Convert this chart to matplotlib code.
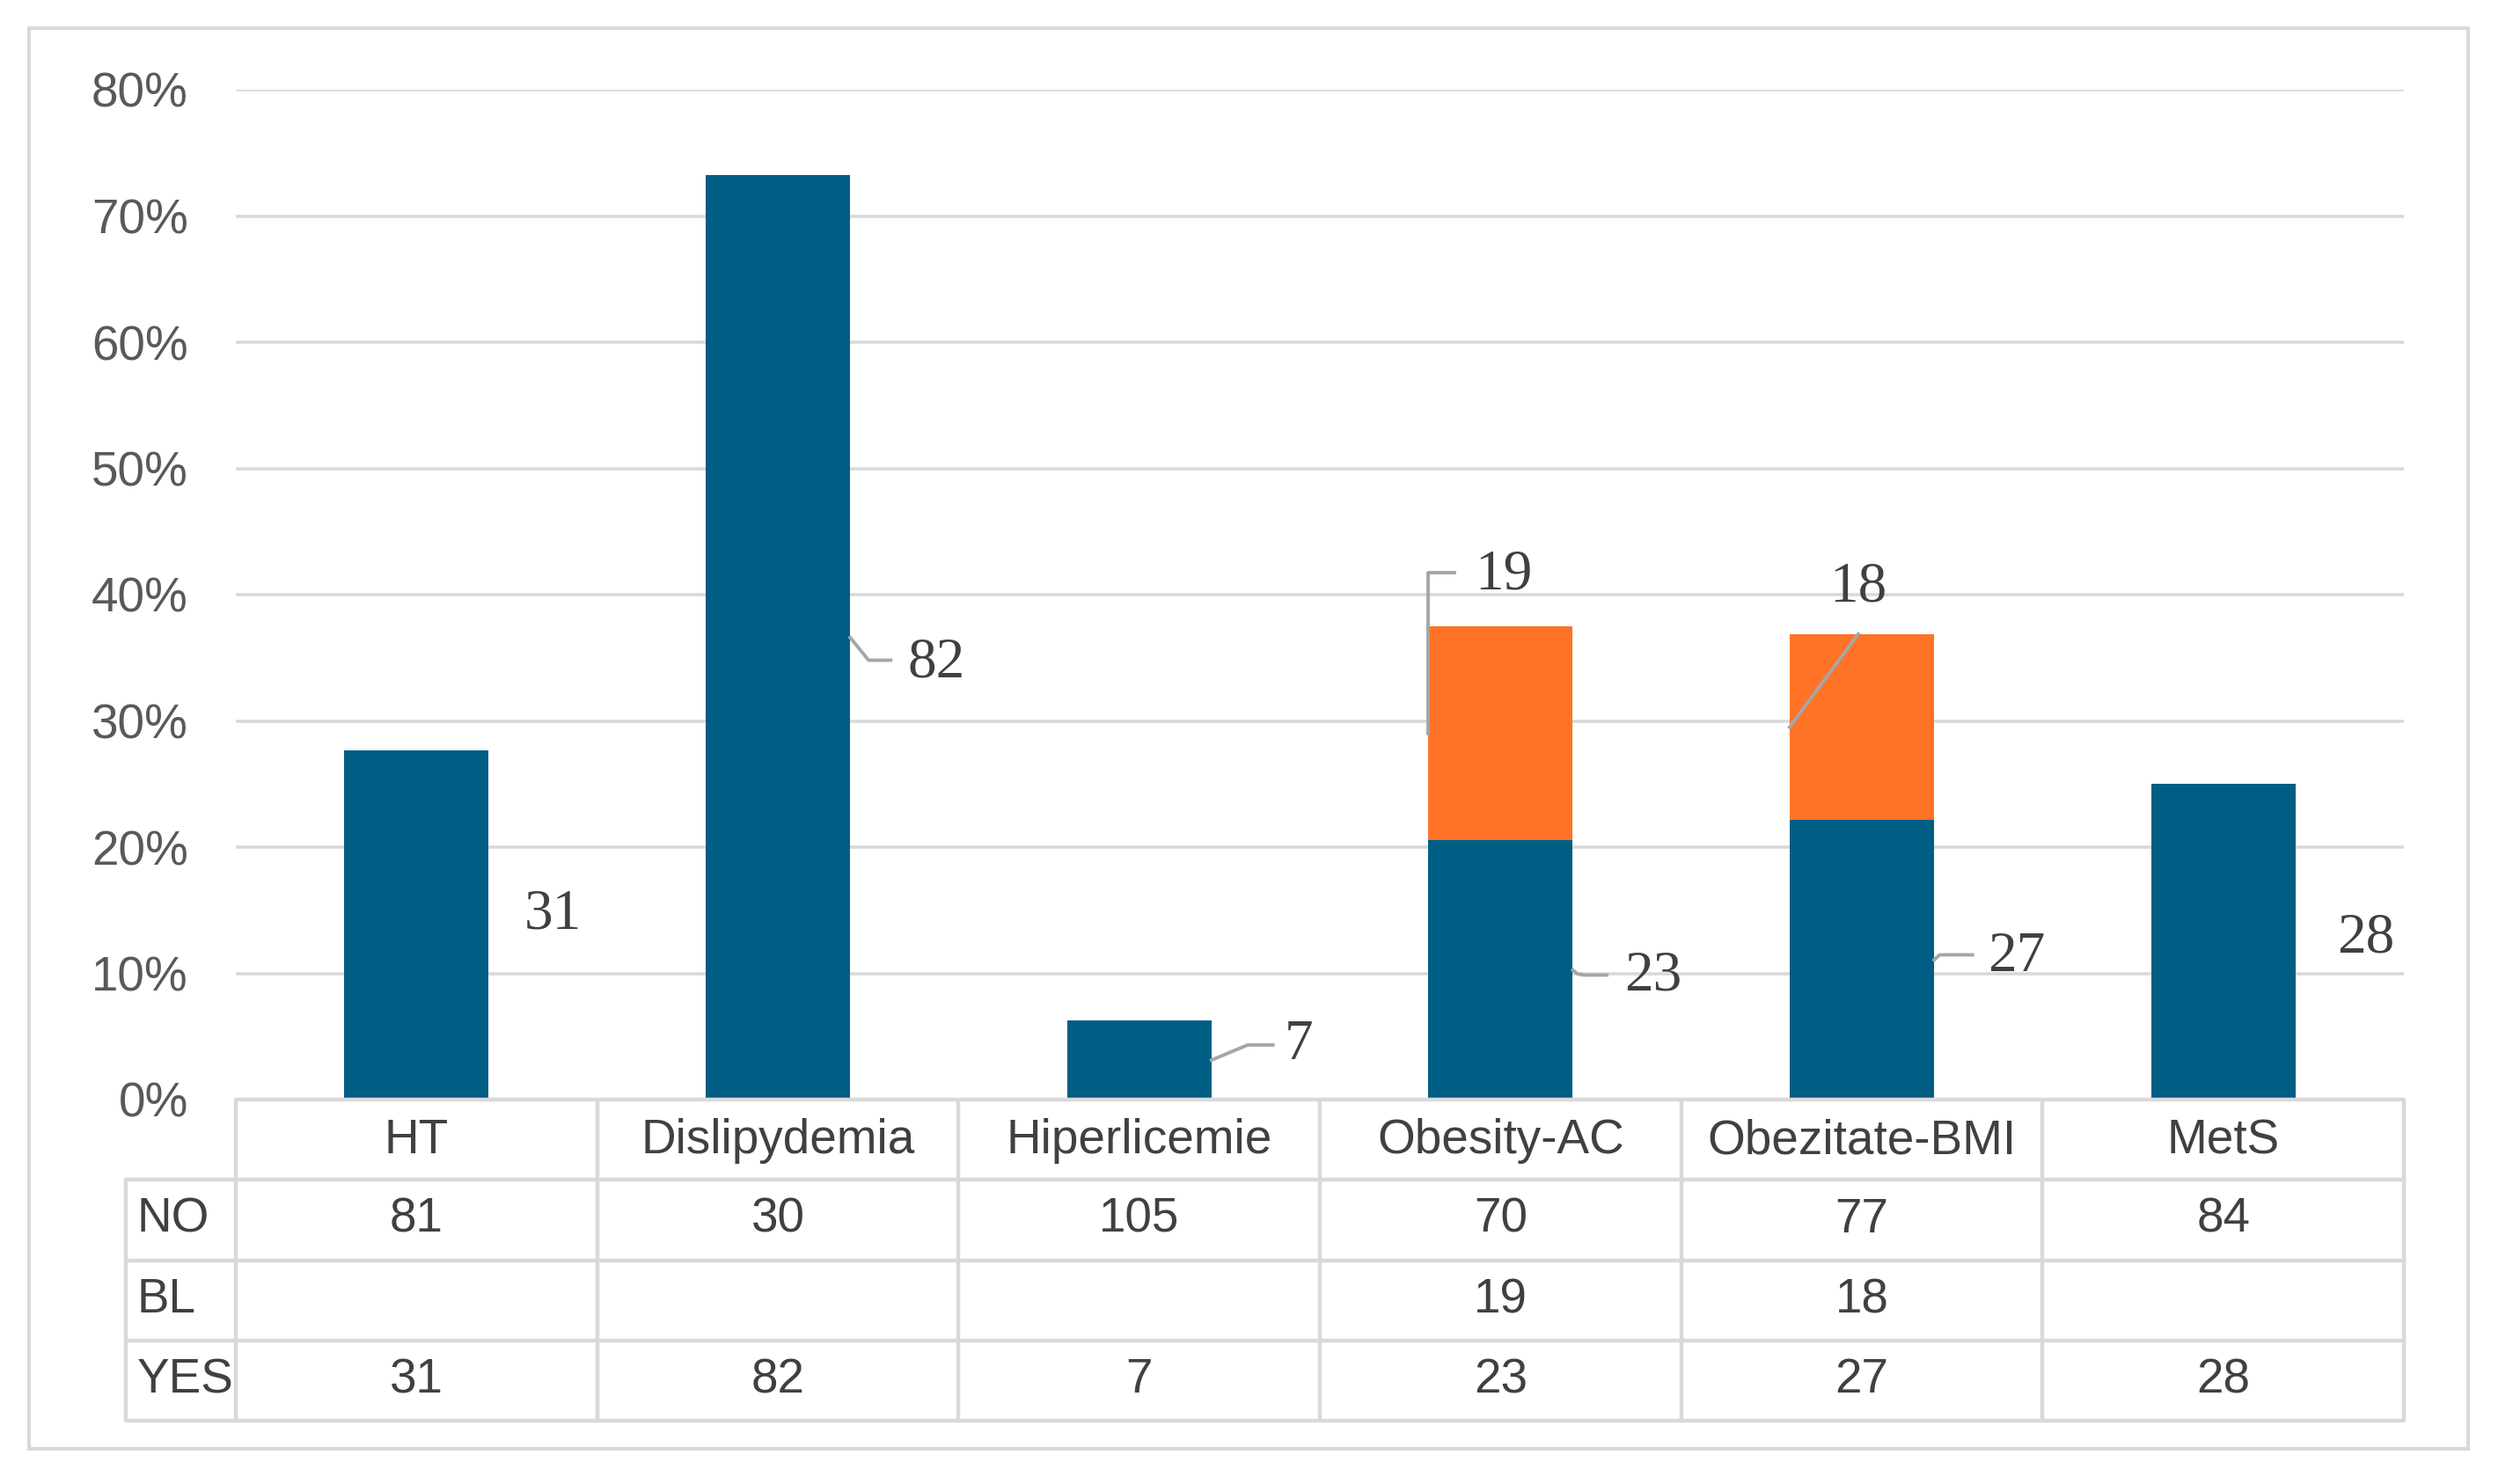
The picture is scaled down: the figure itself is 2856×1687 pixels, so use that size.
import matplotlib
matplotlib.use("Agg")
import matplotlib.pyplot as plt
from matplotlib.patches import Rectangle
import numpy as np

# ---------------- data ----------------
categories = ["HT", "Dislipydemia", "Hiperlicemie", "Obesity-AC", "Obezitate-BMI", "MetS"]
row_labels = ["NO", "BL", "YES"]
no_counts = [81, 30, 105, 70, 77, 84]
bl_counts = [None, None, None, 19, 18, None]
yes_counts = [31, 82, 7, 23, 27, 28]
y_ticks = [0, 0.1, 0.2, 0.3, 0.4, 0.5, 0.6, 0.7, 0.8]
y_tick_labels = ["0%", "10%", "20%", "30%", "40%", "50%", "60%", "70%", "80%"]

BLUE = "#005E85"
ORANGE = "#FF7326"
GRID = "#D9D9D9"
TICKC = "#595959"
TEXTC = "#404040"
LEADER = "#A6A6A6"

W, H = 2856, 1687
fig = plt.figure(figsize=(W / 100, H / 100), dpi=100)
fig.patch.set_facecolor("white")

bl_vals = np.array([b if b is not None else 0 for b in bl_counts], dtype=float)
totals = np.array(no_counts) + bl_vals + np.array(yes_counts)
yes_pct = np.array(yes_counts) / totals
bl_pct = bl_vals / totals

# plot area (pixels)
L, R, T, B = 268, 2732, 102, 1250
ax = fig.add_axes([L / W, 1 - B / H, (R - L) / W, (B - T) / H])
x = np.arange(len(categories))
bw = 0.40
ax.set_xlim(-0.5, len(categories) - 0.5)
ax.set_ylim(0, 0.8)
ax.set_yticks(y_ticks)
ax.set_yticklabels(y_tick_labels, fontsize=39.5, color=TICKC, family="Liberation Sans")
ax.tick_params(axis="y", length=0, pad=39)
ax.set_xticks([])
for s in ax.spines.values():
    s.set_visible(False)
for yt in y_ticks[1:]:
    ax.axhline(yt, color=GRID, lw=2.6, zorder=0)

ax.bar(x, yes_pct, width=bw, color=BLUE, zorder=2)
ax.bar(x, bl_pct, width=bw, bottom=yes_pct, color=ORANGE, zorder=2)

lab_kw = dict(fontsize=47, color=TEXTC, family="Liberation Serif", ha="center", va="center")
# YES labels: offset (dx, dy) of text center from bar right edge mid-height; leader path offsets
yes_label_offsets = [(0.177, 0.008), (0.238, -0.02), (0.241, 0.012), (0.222, -0.005), (0.228, 0.002), (0.195, 0.0025)]
yes_leaders = [None,
               [(0, 0), (0.051, -0.018), (0.112, -0.018)],
               [(0, 0), (0.10, 0.012), (0.17, 0.012)],
               [(0, 0), (0.012, -0.003), (0.03, -0.004), (0.094, -0.004)],
               [(0, 0), (0.015, 0.004), (0.106, 0.004)],
               None]
for i in range(len(categories)):
    ax_, ay_ = x[i] + bw / 2, yes_pct[i] / 2
    dx, dy = yes_label_offsets[i]
    ax.text(ax_ + dx, ay_ + dy, str(yes_counts[i]), **lab_kw)
    if yes_leaders[i]:
        pts = np.array([(ax_ + px, ay_ + py) for px, py in yes_leaders[i]])
        ax.plot(pts[:, 0], pts[:, 1], color=LEADER, lw=2.8, zorder=3, clip_on=False)

# BL labels (anchor: bar left edge, middle of orange segment)
for i in range(len(categories)):
    if bl_counts[i] is None:
        continue
    ax_, ay_ = x[i] - bw / 2, yes_pct[i] + bl_pct[i] / 2
    if i == 3:
        ax.text(ax_ + 0.209, ay_ + 0.125, str(bl_counts[i]), **lab_kw)
        pts = np.array([(ax_, ay_), (ax_, ay_ + 0.127), (ax_ + 0.072, ay_ + 0.127)])
    else:
        ax.text(ax_ + 0.19, ay_ + 0.111, str(bl_counts[i]), **lab_kw)
        pts = np.array([(ax_, ay_), (x[i] - 0.01, yes_pct[i] + bl_pct[i])])
    ax.plot(pts[:, 0], pts[:, 1], color=LEADER, lw=2.8, zorder=3, clip_on=False)

# ---------------- data table ----------------
TL, TB = 143, 1615
tab = fig.add_axes([TL / W, 1 - TB / H, (R - TL) / W, (TB - B) / H])
cw = (R - L) / len(categories)
xl = -0.5 - (L - TL) / cw
tab.set_xlim(xl, len(categories) - 0.5)
tab.set_ylim(4, 0)
tab.axis("off")
lkw = dict(color=GRID, lw=3.2, clip_on=False, solid_capstyle="round")
n = len(categories)
tab.plot([-0.5, n - 0.5], [0, 0], **lkw)
for r in range(1, 5):
    tab.plot([xl, n - 0.5], [r, r], **lkw)
for k in range(n + 1):
    tab.plot([-0.5 + k, -0.5 + k], [0, 4], **lkw)
tab.plot([xl, xl], [1, 4], **lkw)

tkw = dict(fontsize=39.5, color=TEXTC, family="Liberation Sans", va="center")
for i, c in enumerate(categories):
    tab.text(i, 0.52, c, ha="center", **tkw)
rows = [no_counts, bl_counts, yes_counts]
for r, (lab, vals) in enumerate(zip(row_labels, rows)):
    tab.text(xl + 0.03, r + 1.5, lab, ha="left", **tkw)
    for i, v in enumerate(vals):
        if v is not None:
            tab.text(i, r + 1.5, str(v), ha="center", **tkw)

# outer chart border
fig.patches.append(Rectangle((33 / W, 1 - 1647 / H), (2805 - 33) / W, (1647 - 32) / H,
                             transform=fig.transFigure, fill=False, ec=GRID, lw=3))

fig.savefig("out.png", dpi=100, facecolor="white")
